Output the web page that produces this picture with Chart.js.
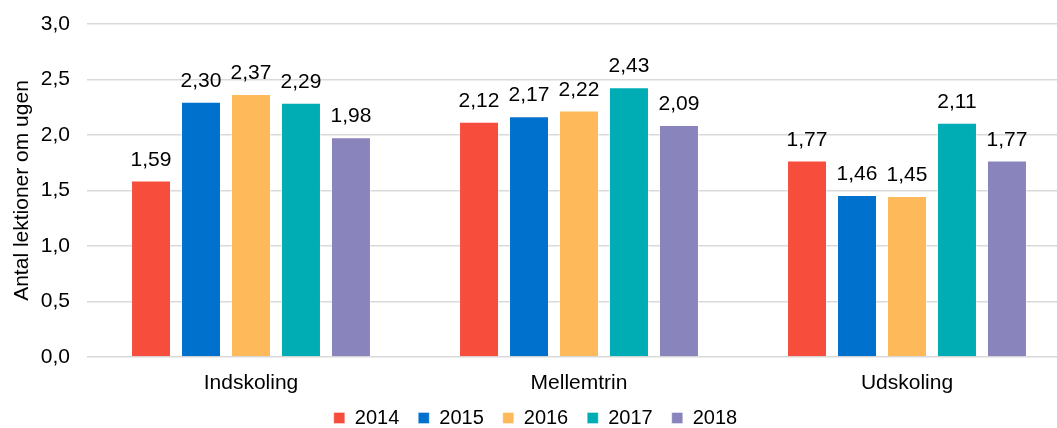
<!DOCTYPE html>
<html>
<head>
<meta charset="utf-8">
<script src="https://cdn.jsdelivr.net/npm/chart.js@4"></script>
<style>
  html, body { margin: 0; padding: 0; background: #fff; overflow: hidden; }
  #wrap { width: 1071px; height: 428px; }
</style>
</head>
<body>
<div id="wrap"><canvas id="myChart" width="1071" height="428"></canvas></div>
<script>
// categories and series
const categories = ['Indskoling', 'Mellemtrin', 'Udskoling'];
const years = ['2014', '2015', '2016', '2017', '2018'];
const values2014 = [1.59, 2.12, 1.77];
const values2015 = [2.30, 2.17, 1.46];
const values2016 = [2.37, 2.22, 1.45];
const values2017 = [2.29, 2.43, 2.11];
const values2018 = [1.98, 2.09, 1.77];
const yTicks = [0, 0.5, 1.0, 1.5, 2.0, 2.5, 3.0];
const colors = ['#F64D3D', '#0072CE', '#FDB95A', '#00ADB5', '#8A84BD'];

const seriesValues = [values2014, values2015, values2016, values2017, values2018];
const fontFamily = '"Liberation Sans", Arial, sans-serif';

function fmt(v, d) {
    return v.toFixed(d).replace('.', ',');
}

// draw the value above each bar
const valueLabels = {
    id: 'valueLabels',
    afterDatasetsDraw(chart) {
        const ctx = chart.ctx;
        ctx.save();
        ctx.font = '21px ' + fontFamily;
        ctx.fillStyle = '#000';
        ctx.textAlign = 'center';
        ctx.textBaseline = 'alphabetic';
        chart.data.datasets.forEach((ds, i) => {
            chart.getDatasetMeta(i).data.forEach((bar, j) => {
                ctx.fillText(fmt(ds.data[j], 2), bar.x, bar.y - 15);
            });
        });
        ctx.restore();
    }
};

var ctx = document.getElementById('myChart').getContext('2d');
var myChart = new Chart(ctx, {
    type: 'bar',
    data: {
        labels: categories,
        datasets: years.map((y, i) => ({
            label: y,
            data: seriesValues[i],
            backgroundColor: colors[i],
            borderColor: 'rgba(255,255,255,0.35)',
            borderWidth: 1,
            categoryPercentage: 0.762,
            barPercentage: 0.8
        }))
    },
    options: {
        responsive: false,
        animation: false,
        devicePixelRatio: 1,
        layout: { padding: { top: 24, bottom: -10 } },
        plugins: {
            legend: {
                position: 'bottom',
                labels: {
                    boxWidth: 11,
                    boxHeight: 11,
                    padding: 19,
                    color: '#000',
                    font: { size: 20, family: fontFamily }
                }
            },
            tooltip: { enabled: false }
        },
        scales: {
            x: {
                afterFit: (scale) => {
                    scale.height = 32;
                    // labels overhang the shortened box, so don't clip them
                    scale._computeLabelArea = () => undefined;
                },
                grid: { display: false },
                border: { display: false },
                ticks: { color: '#000', padding: 6, font: { size: 21, family: fontFamily } }
            },
            y: {
                min: 0,
                max: 3,
                afterBuildTicks: (scale) => { scale.ticks = yTicks.map(v => ({ value: v })); },
                afterFit: (scale) => {
                    scale.width = 87;
                    scale.paddingTop = 0;
                },
                grid: { color: '#d9d9d9', lineWidth: 1.5, drawTicks: false },
                border: { display: false },
                ticks: {
                    color: '#000',
                    padding: 17,
                    font: { size: 21, family: fontFamily },
                    callback: (v) => fmt(v, 1)
                },
                title: {
                    display: true,
                    text: 'Antal lektioner om ugen',
                    color: '#000',
                    padding: { top: 10, bottom: 0 },
                    font: { size: 21, family: fontFamily }
                }
            }
        }
    },
    plugins: [valueLabels]
});
</script>
</body>
</html>
